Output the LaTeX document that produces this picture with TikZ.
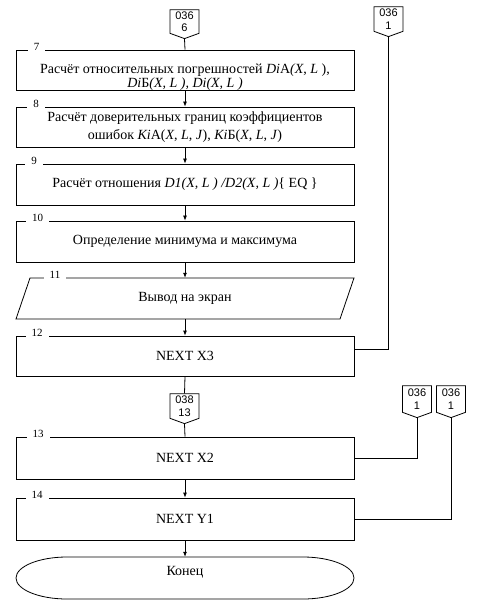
\documentclass[tikz,border=0pt]{standalone}
\usepackage{fontspec}
\setmainfont{Liberation Serif}
\newfontfamily\sansf{Liberation Sans}
\usetikzlibrary{arrows.meta,shapes.symbols}
\begin{document}
\begin{tikzpicture}[x=1pt,y=-1pt,
  lw/.style={line width=0.8pt},
  box/.style={lw, draw, minimum width=338pt, inner sep=0pt, align=center,
    font=\fontsize{14}{18}\selectfont},
  plain/.style={inner sep=0pt, align=center, font=\fontsize{14}{12}\selectfont},
  ghost/.style={minimum width=338pt, inner sep=0pt, align=center,
    font=\fontsize{14}{18}\selectfont},
  num/.style={fill=white, inner xsep=6pt, inner ysep=1pt, font=\fontsize{11}{11}\selectfont},
  offp/.style={lw, draw, shape=signal, signal to=south, signal pointer angle=140,
    minimum width=29pt, inner sep=0pt, align=center,
    font=\sansf\fontsize{11}{12.5}\selectfont},
  arr/.style={lw, -{Latex[length=5pt,width=4pt]}},
  ln/.style={lw}]
\useasboundingbox (0,0) rectangle (478,609);

% off-page connectors
\node[offp, minimum height=27pt] (c1) at (184.5,21.5) {036\\6};
\node[offp, minimum height=28pt] (c2) at (388.5,19) {036\\1};
\node[offp, minimum height=28pt] (c3) at (184.5,406) {038\\13};
\node[offp, minimum height=30pt] (c4) at (417,399) {036\\1};
\node[offp, minimum height=30pt] (c5) at (451,399) {036\\1};

% boxes
\node[box, minimum height=40pt] (b7) at (185,70) {};
\node[plain, align=center] (t7) at (185,77) {Расчёт относительных погрешностей \textit{Di}A\textit{(X}, \textit{L} ),\\[0pt]\textit{Di}Б\textit{(X, L ), Di(X, L )}};
\node[box, minimum height=40pt] (b8) at (185,127) {Расчёт доверительных границ коэффициентов\\ошибок \textit{Ki}A(\textit{X}, \textit{L}, \textit{J}), \textit{Ki}Б(\textit{X}, \textit{L}, \textit{J})};
\node[box, minimum height=41pt] (b9) at (185,184.5) {Расчёт отношения \textit{D1(X, L ) /D2(X, L )}\{ EQ \}};
\node[box, minimum height=41pt] (b10) at (185,241.5) {Определение минимума и максимума};
\node[ghost, minimum height=41pt] (b11) at (185,298.5) {\raisebox{-3pt}{Вывод на экран}};
\draw[lw] (30,278) -- (354,278) -- (340,319) -- (16,319) -- cycle;
\node[box, minimum height=40pt] (b12) at (185,356) {NEXT X3};
\node[box, minimum height=42pt] (b13) at (185,458) {NEXT X2};
\node[box, minimum height=42pt] (b14) at (185,519) {NEXT Y1};
\node[ghost, minimum height=42pt] (end) at (185,578) {};
\node[plain] (tend) at (185,572) {Конец};
\draw[lw] (67,557) -- (303,557) .. controls (331,557) and (354,566.4) .. (354,578)
  .. controls (354,589.6) and (331,599) .. (303,599) -- (67,599)
  .. controls (39,599) and (16,589.6) .. (16,578)
  .. controls (16,566.4) and (39,557) .. (67,557) -- cycle;

% numbers
\node[num] (n7) at (36.5,47) {7};
\node[num] (n8) at (36,104) {8};
\node[num] (n9) at (34,161) {9};
\node[num] (n10) at (37.5,218) {10};
\node[num] (n11) at (55,275) {11};
\node[num] (n12) at (37,333) {12};
\node[num] (n13) at (38,434) {13};
\node[num] (n14) at (37,495) {14};

% connectors
\coordinate (j12) at (354,349);
\draw[ln] (c1.south) -- (b7.north);
\draw[arr] (b7.south) -- (b8.north);
\draw[arr] (b8.south) -- (b9.north);
\draw[arr] (b9.south) -- (b10.north);
\draw[arr] (b10.south) -- (b11.north);
\draw[arr] (b11.south) -- (b12.north);
\draw[ln] (b12.south) -- (c3.north);
\draw[ln] (c3.south) -- (b13.north);
\draw[arr] (b13.south) -- (b14.north);
\draw[arr] (b14.south) -- (end.north);
\draw[ln] (c2.south) |- (j12);
\draw[ln] (c4.south) |- (b13.east);
\draw[ln] (c5.south) |- (b14.east);
\end{tikzpicture}
\end{document}
